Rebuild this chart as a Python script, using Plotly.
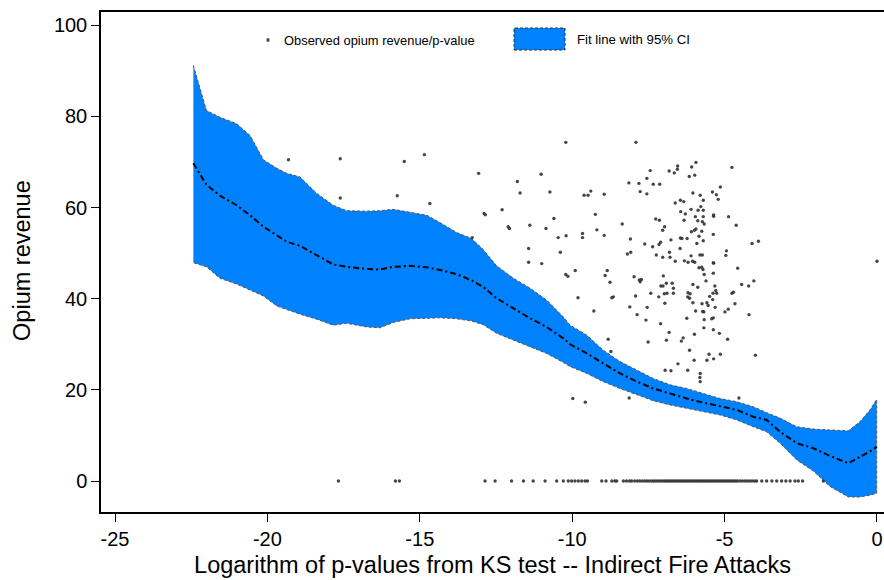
import plotly.graph_objects as go

# ---- data ----
fit_x = [-22.43, -22.00, -21.56, -21.01, -20.57, -20.13, -19.69, -19.37, -18.93, -18.38,
         -17.84, -17.40, -16.74, -16.31, -15.87, -15.32, -14.77, -14.34, -13.79, -13.30,
         -12.92, -12.48, -11.93, -11.38, -10.84, -10.29, -10.07, -9.52, -8.98, -8.43,
         -7.88, -7.34, -6.79, -6.24, -5.70, -5.15, -4.60, -4.06, -3.62, -3.18,
         -2.63, -2.09, -1.54, -0.94, -0.56, -0.23, -0.01]
fit_upper = [91.2, 81.3, 79.8, 78.4, 75.8, 70.5, 68.6, 67.5, 66.7, 63.1,
             60.5, 59.3, 59.2, 59.3, 59.6, 59.0, 58.3, 56.7, 54.5, 53.2,
             50.8, 47.2, 44.5, 42.3, 39.7, 36.0, 34.2, 32.0, 28.7, 26.2,
             24.3, 22.5, 21.1, 20.3, 19.2, 18.1, 17.4, 16.3, 15.0, 13.8,
             11.9, 11.4, 11.2, 11.0, 13.0, 15.6, 17.9]
fit_lower = [47.9, 47.0, 44.5, 43.2, 41.9, 40.6, 38.4, 37.7, 36.6, 35.5,
             34.2, 34.6, 33.8, 33.6, 34.8, 35.6, 35.7, 35.8, 35.6, 35.1,
             34.3, 32.4, 30.9, 29.5, 28.0, 26.0, 25.1, 23.6, 21.8, 20.3,
             18.9, 17.6, 16.7, 15.9, 15.2, 14.5, 13.4, 11.9, 10.8, 8.3,
             4.6, 2.2, -1.2, -3.5, -3.5, -3.1, -2.7]
fit_center = [69.7, 65.0, 62.6, 60.5, 58.3, 55.8, 53.9, 52.5, 51.6, 49.6,
              47.5, 47.0, 46.5, 46.4, 47.0, 47.2, 46.9, 46.3, 45.4, 44.0,
              42.6, 40.1, 37.9, 35.7, 33.8, 31.3, 30.0, 28.0, 25.8, 23.6,
              21.8, 20.3, 19.2, 18.1, 17.2, 16.4, 15.6, 14.1, 13.4, 10.8,
              8.3, 7.2, 5.5, 3.9, 5.3, 6.5, 7.5]

obs_x = [-19.31, -17.61, -17.61, -15.51, -14.85, -15.74, -14.67, -13.07, -13.28,
         -10.21, -11.02, -11.80, -11.71, -10.73, -12.89, -12.85, -12.30, -12.10, -12.06,
         -11.39, -10.86, -10.60, -10.46, -10.20, -11.43, -10.39, -11.43, -11.00, -10.21,
         -10.14, -9.90, -9.81, -9.98, -9.57, 0.00,
         -7.91, -5.94, -6.08, -6.54, -6.55, -6.65, -6.82, -7.44, -7.55, -6.16,
         -5.98, -4.76, -8.14, -7.81, -7.34, -7.13, -9.39, -9.61, -9.48, -8.95,
         -7.77, -7.55, -6.04, -5.80, -5.40, -5.27, -5.14, -5.21, -5.70, -6.62,
         -6.45, -6.34, -5.78, -5.87, -5.70, -6.10, -6.44, -6.29, -5.96, -5.70,
         -5.36, -5.36, -4.87, -5.88, -5.73, -5.67, -6.33, -7.26, -7.14, -9.24,
         -8.36, -6.97, -7.03, -4.62, -5.94, -5.99, -6.09, -5.75, -5.37, -5.84,
         -9.19, -9.66, -9.66, -8.95, -8.09, -6.76, -6.45, -6.40, -6.23, -5.91,
         -5.70, -7.62, -7.36, -7.15, -7.10, -6.46, -6.81, -7.24, -7.03, -6.79,
         -6.62, -6.32, -6.20, -6.10, -6.05, -5.98, -5.81, -5.73, -5.37, -4.96,
         -4.94, -4.10, -3.89, -8.08, -8.19, -8.85, -8.92, -8.76, -7.97, -7.80,
         -7.73, -7.77, -7.01, -5.84, -5.75, -5.71, -5.67, -5.36, -5.37, -5.61,
         -6.04, -5.88, -5.32, -5.29, -4.57, -4.04, -4.21, -4.44, -7.09, -7.02,
         -6.91, -6.72, -6.68, -6.68, -6.89, -6.98, -7.16, -7.42, -7.92, -8.65,
         -8.70, -6.96, -6.20, -6.13, -6.21, -6.15, -6.04, -5.74, -5.58, -5.49,
         -5.38, -5.39, -5.26, -4.76, -4.71, -4.66, -4.88, -4.99, -5.31, -5.54,
         -5.72, -5.68, -5.95, -6.24, -5.67, -5.42, -5.37, -7.87, -8.11, -7.54,
         -7.58, -9.29, -4.20, -7.10, -5.68, -5.37, -5.17, -5.99, -6.82, -6.91,
         -6.42, -6.36, -4.90, -7.51, -8.82, -8.73, -6.15, -6.00, -5.58, -5.36,
         -5.51, -5.14, -3.99, -6.53, -6.76, -6.95, -6.21, -5.80, -5.81, -5.80,
         -4.53, -8.13]
obs_y = [70.5, 70.7, 62.1, 70.1, 71.6, 62.6, 60.9, 67.5, 53.4,
         74.3, 67.3, 65.7, 63.2, 63.4, 58.7, 58.4, 59.5, 55.8, 55.4,
         56.1, 55.4, 57.6, 53.4, 53.8, 51.0, 50.2, 48.0, 47.7, 45.3,
         44.9, 46.2, 40.2, 18.1, 17.3, 48.2,
         74.3, 69.9, 68.9, 69.1, 68.4, 67.6, 68.0, 68.1, 66.4, 66.8,
         67.1, 68.8, 65.4, 65.3, 65.1, 65.1, 63.6, 62.7, 62.7, 62.9,
         63.5, 63.0, 63.2, 62.7, 63.4, 62.8, 64.5, 61.8, 61.6, 61.0,
         61.6, 61.3, 60.2, 59.4, 59.4, 59.6, 59.1, 58.6, 58.0, 58.0,
         58.4, 58.1, 58.0, 57.1, 56.9, 56.4, 57.2, 57.5, 57.2, 58.5,
         56.4, 55.8, 55.0, 56.1, 55.3, 55.0, 54.7, 54.8, 54.1, 53.7,
         55.1, 54.3, 53.4, 53.9, 53.1, 52.9, 53.3, 53.2, 53.2, 52.1,
         52.7, 52.0, 51.4, 51.9, 52.4, 51.0, 50.2, 49.6, 49.1, 49.1,
         48.2, 48.3, 48.0, 49.4, 48.2, 48.0, 49.6, 49.6, 47.9, 49.5,
         50.5, 52.1, 52.6, 50.2, 49.8, 46.2, 45.1, 43.6, 44.8, 44.1,
         44.2, 43.7, 45.0, 46.8, 46.9, 46.4, 45.3, 47.8, 45.6, 43.9,
         43.1, 42.5, 42.8, 41.8, 46.7, 43.9, 42.8, 43.1, 42.8, 42.8,
         43.4, 43.4, 42.3, 41.2, 41.2, 41.1, 40.4, 41.2, 40.6, 40.4,
         40.2, 39.0, 41.3, 41.1, 40.4, 40.1, 39.1, 38.9, 39.1, 40.5,
         41.2, 39.8, 41.2, 41.2, 41.4, 38.9, 37.7, 37.1, 38.1, 38.5,
         37.2, 37.1, 37.3, 35.7, 35.4, 35.6, 35.8, 36.5, 38.2, 38.1,
         35.3, 37.3, 36.5, 34.5, 33.6, 33.2, 32.4, 32.2, 32.6, 30.9,
         30.7, 31.4, 31.1, 30.5, 31.1, 28.4, 28.7, 26.5, 26.5, 26.8,
         27.8, 27.8, 27.6, 25.7, 24.2, 24.3, 24.3, 23.6, 22.7, 21.8,
         18.2, 18.2]

zero_x = [-17.67, -15.80, -15.67, -12.86, -12.53, -11.99, -11.60, -11.28, -10.89, -10.51,
          -10.29, -10.13, -10.02, -9.91, -9.80, -9.69, -9.58, -9.50, -9.03, -8.89,
          -8.70, -8.60, -8.54, -8.32, -8.22, -8.12, -8.05, -7.95, -7.86, -7.78,
          -7.70, -7.62, -7.55, -7.48, -7.40, -7.33, -7.26, -7.19, -7.12, -7.05,
          -6.98, -6.92, -6.86, -6.80, -6.74, -6.68, -6.62, -6.56, -6.50, -6.44,
          -6.38, -6.32, -6.26, -6.20, -6.14, -6.08, -6.02, -5.96, -5.90, -5.84,
          -5.78, -5.72, -5.66, -5.60, -5.54, -5.48, -5.42, -5.36, -5.30, -5.24,
          -5.18, -5.12, -5.06, -5.00, -4.94, -4.88, -4.82, -4.76, -4.70, -4.64,
          -4.58, -4.50, -4.42, -4.34, -4.26, -4.18, -4.10, -4.02, -3.95, -3.78,
          -3.62, -3.45, -3.29, -3.13, -2.99, -2.85, -2.69, -2.58, -2.44, -1.76]
zero_y = [0.0 for _ in zero_x]

x_ticks = [-25, -20, -15, -10, -5, 0]
y_ticks = [0, 20, 40, 60, 80, 100]

BLUE = "rgb(0,130,255)"
FONT = "Liberation Sans"

fig = go.Figure()

# CI band (closed polygon, dashed outline)
fig.add_trace(go.Scatter(
    x=fit_x + fit_x[::-1],
    y=fit_upper + fit_lower[::-1],
    fill="toself", fillcolor=BLUE, mode="lines",
    line=dict(color="#555555", width=1, dash="3px,2px"),
    hoverinfo="skip", showlegend=False))

# fitted line
fig.add_trace(go.Scatter(
    x=fit_x, y=fit_center, mode="lines",
    line=dict(color="black", width=2, dash="6px,3px,2px,3px"),
    showlegend=False))

# observations
fig.add_trace(go.Scatter(
    x=obs_x + zero_x, y=obs_y + zero_y, mode="markers",
    marker=dict(symbol="circle", size=3.4, color="rgba(50,50,50,0.9)",
                line=dict(width=0)),
    showlegend=False))

# custom legend
fig.add_shape(type="circle", xref="paper", yref="paper",
              x0=0.2113, x1=0.2153, y0=0.940, y1=0.948,
              fillcolor="#444", line=dict(width=0))
fig.add_annotation(x=0.2312, y=0.944, xref="paper", yref="paper",
                   text="Observed opium revenue/p-value", showarrow=False,
                   xanchor="left", yanchor="middle",
                   font=dict(family=FONT, size=12.9, color="black"))
fig.add_shape(type="rect", xref="paper", yref="paper",
              x0=0.5275, x1=0.5926, y0=0.924, y1=0.968,
              fillcolor=BLUE, line=dict(color="#333", width=1, dash="3px,2px"))
fig.add_annotation(x=0.6054, y=0.946, xref="paper", yref="paper",
                   text="Fit line with 95% CI", showarrow=False,
                   xanchor="left", yanchor="middle",
                   font=dict(family=FONT, size=13.2, color="black"))

# y-axis title
fig.add_annotation(x=-0.101, y=0.504, xref="paper", yref="paper",
                   text="Opium revenue", showarrow=False, textangle=-90,
                   xanchor="center", yanchor="middle",
                   font=dict(family=FONT, size=23.5, color="black"))

fig.update_layout(
    width=884, height=580,
    margin=dict(l=101, r=0, t=12, b=68),
    paper_bgcolor="white", plot_bgcolor="white",
    font=dict(family=FONT, color="black"),
    showlegend=False,
    xaxis=dict(range=[-25.46, 0.23], tickvals=x_ticks, ticktext=[str(t) for t in x_ticks],
               automargin=False,
               showgrid=False, zeroline=False, showline=True, linecolor="black",
               linewidth=1.5, mirror=True, ticks="outside", ticklen=8, tickwidth=1.2,
               tickcolor="black", tickfont=dict(size=20, family=FONT),
               title=dict(text="Logarithm of p-values from KS test -- Indirect Fire Attacks",
                          font=dict(size=23.5, family=FONT), standoff=8)),
    yaxis=dict(range=[-6.8, 102.9], tickvals=y_ticks, ticktext=[str(t) for t in y_ticks],
               automargin=False,
               showgrid=False, zeroline=False, showline=True, linecolor="black",
               linewidth=1.5, ticks="outside", ticklen=8, tickwidth=1.2,
               tickcolor="black", tickfont=dict(size=20, family=FONT)),
)

fig.write_html("out.html", config={"displayModeBar": False},
               post_script="document.body.style.margin='0';document.body.style.overflow='hidden';")
